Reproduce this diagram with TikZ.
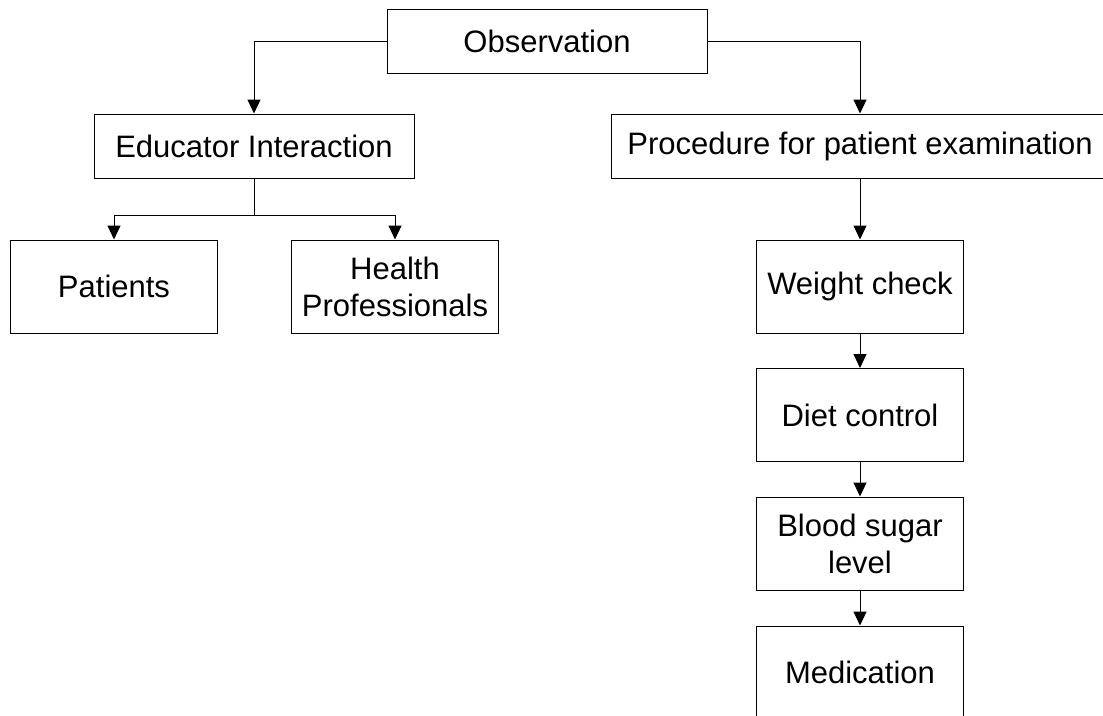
\documentclass[tikz,border=0pt]{standalone}
\usepackage{fontspec}
\setmainfont{Liberation Sans}
\usepackage{tikz}
\usetikzlibrary{arrows.meta}

\begin{document}
\begin{tikzpicture}[x=1pt, y=-1pt,
    every node/.style={draw, line width=1pt, align=center, inner sep=0pt,
        font=\fontsize{31}{37}\selectfont},
    wide/.style={minimum width=320pt, minimum height=64pt},
    small/.style={minimum width=207pt, minimum height=93pt},
    arr/.style={-{Triangle[width=13pt,length=14pt]}, line width=1pt}]
                \clip (0,0) rectangle (1103,715);
                \useasboundingbox (0,0) rectangle (1103,715);
                % top level
                \node[wide] (obs) at (547, 41) {Observation};
                \node[wide] (edu) at (254, 146) {Educator Interaction};
                \node[wide, minimum width=498pt] (proc) at (860, 146) {Procedure for patient examination};
                % left branch
                \node[small] (pat) at (114, 286.5) {Patients};
                \node[small] (hp) at (395, 286.5) {Health\\Professionals};
                % right branch
                \node[small] (wc) at (860, 286.5) {Weight check};
                \node[small] (dc) at (860, 415) {Diet control};
                \node[small] (bs) at (860, 543.5) {Blood sugar\\level};
                \node[small] (med) at (860, 672.5) {Medication};
                \coordinate (split) at (254, 215);
                \draw[arr] (obs.west) -| (edu.north);
                \draw[arr] (obs.east) -| (proc.north);
                \draw[line width=1pt] (edu.south) -- (split);
                \draw[arr] (split) -| (pat.north);
                \draw[arr] (split) -| (hp.north);
                \foreach \a/\b in {proc/wc, wc/dc, dc/bs, bs/med} {
                    \draw[arr] (\a.south) -- (\b.north);
                }
            \end{tikzpicture}
\end{document}
